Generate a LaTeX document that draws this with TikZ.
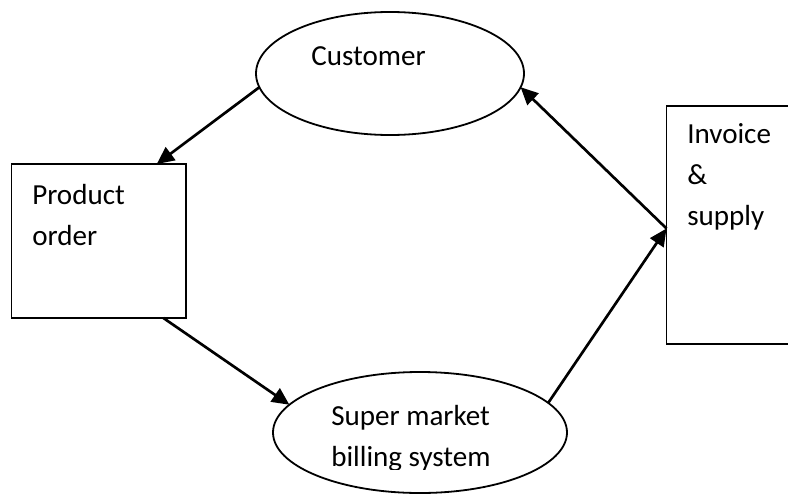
\documentclass[tikz,border=0pt]{standalone}
\usepackage{fontspec}
\setmainfont{Carlito}
\usetikzlibrary{shapes.geometric,arrows.meta}
\begin{document}
\begin{tikzpicture}[x=0.75pt,y=-0.75pt,
  shapeline/.style={draw=black, line width=1.35pt, inner sep=0pt, outer sep=0pt},
  oval/.style={shapeline, ellipse},
  box/.style={shapeline, rectangle},
  flow/.style={draw=black, line width=2pt, -{Triangle[length=13pt,width=12pt]}},
  txt/.style={anchor=base west, inner sep=0pt, font=\fontsize{21.8}{31}\selectfont}]
\useasboundingbox (0,0) rectangle (788,493);
\fill[white] (0,0) rectangle (788,493);
% shapes
\node[oval, minimum width=201pt, minimum height=92.25pt] (cust) at (390,73.5) {};
\node[oval, minimum width=220.5pt, minimum height=90.75pt] (sms) at (420,432.5) {};
\node[box, minimum width=130.9pt, minimum height=115.5pt] (prod) at (98.75,241) {};
\node[box, minimum width=100.1pt, minimum height=178.5pt] (inv) at (733.25,225) {};
% texts
\node[txt] (tcust) at (311,65) {Customer};
\node[txt] (tprod) at (32,204) {\begin{tabular}[t]{@{}l@{}}Product\\order\end{tabular}};
\node[txt] (tinv) at (687,143) {\begin{tabular}[t]{@{}l@{}}Invoice\\\&\\supply\end{tabular}};
\begin{scope}
  \clip (260,360) rectangle (580,469);
  \node[txt] (tsms) at (331,425) {\begin{tabular}[t]{@{}l@{}}Super market\\billing system\end{tabular}};
\end{scope}
% connectors
\draw[flow] (cust.186) -- (prod.53);
\draw[flow] (prod.-50.6) -- (sms.168);
\draw[flow] (sms.13) -- (inv.183);
\draw[flow] (inv.183) -- (cust.-6);
\end{tikzpicture}
\end{document}
